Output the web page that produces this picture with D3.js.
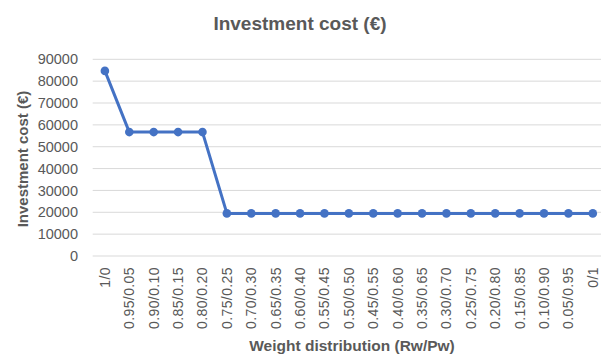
<!DOCTYPE html>
<html>
<head>
<meta charset="utf-8">
<script src="https://cdn.jsdelivr.net/npm/d3@7"></script>
<style>
  html, body { margin: 0; padding: 0; background: #ffffff; overflow: hidden; }
  svg { display: block; font-family: "Liberation Sans", Arial, sans-serif; }
</style>
</head>
<body>
<svg id="chart" width="601" height="356"></svg>
<script>
// Weight distribution (Rw/Pw) categories
const categories = [
  "1/0", "0.95/0.05", "0.90/0.10", "0.85/0.15", "0.80/0.20", "0.75/0.25",
  "0.70/0.30", "0.65/0.35", "0.60/0.40", "0.55/0.45", "0.50/0.50", "0.45/0.55",
  "0.40/0.60", "0.35/0.65", "0.30/0.70", "0.25/0.75", "0.20/0.80", "0.15/0.85",
  "0.10/0.90", "0.05/0.95", "0/1"
];
// Investment cost (€) per weight distribution
const costs = [
  84700, 56700, 56700, 56700, 56700, 19500,
  19500, 19500, 19500, 19500, 19500, 19500,
  19500, 19500, 19500, 19500, 19500, 19500,
  19500, 19500, 19500
];
const yTicks = [0, 10000, 20000, 30000, 40000, 50000, 60000, 70000, 80000, 90000];

const svg = d3.select("#chart");
const textColor = "#595959";

const x = d3.scaleBand().domain(categories).range([92.7, 605]);
const y = d3.scaleLinear().domain([0, 90000]).range([256, 59.3]);
const cx = d => x(d) + x.bandwidth() / 2;

// Title
svg.append("text")
  .attr("x", 300).attr("y", 30)
  .attr("text-anchor", "middle")
  .attr("font-size", 19).attr("font-weight", "bold")
  .attr("fill", textColor)
  .text("Investment cost (€)");

// Horizontal gridlines
svg.append("g")
  .selectAll("line")
  .data(yTicks)
  .join("line")
  .attr("x1", 92.7).attr("x2", 605)
  .attr("y1", d => y(d)).attr("y2", d => y(d))
  .attr("stroke", "#d9d9d9").attr("stroke-width", 1);

// Y axis
const yAxis = d3.axisLeft(y).tickValues(yTicks).tickSize(0).tickPadding(0).tickFormat(d3.format("d"));
const gy = svg.append("g").attr("transform", "translate(78,0)").call(yAxis);
gy.select(".domain").remove();
gy.selectAll("text")
  .attr("font-size", 14.5).attr("fill", textColor)
  .attr("font-family", "\"Liberation Sans\", Arial, sans-serif");

// X axis (rotated labels)
const xAxis = d3.axisBottom(x).tickSize(0).tickPadding(0);
const gx = svg.append("g").attr("transform", "translate(0,267)").call(xAxis);
gx.select(".domain").remove();
gx.selectAll("text")
  .attr("font-size", 14).attr("fill", textColor)
  .attr("font-family", "\"Liberation Sans\", Arial, sans-serif")
  .attr("letter-spacing", 0.4)
  .attr("transform", "rotate(-90)")
  .attr("text-anchor", "end")
  .attr("x", 0).attr("y", 0).attr("dy", "0.35em");

// Axis titles
svg.append("text")
  .attr("transform", "translate(28,159) rotate(-90)")
  .attr("text-anchor", "middle")
  .attr("font-size", 15).attr("font-weight", "bold")
  .attr("fill", textColor)
  .text("Investment cost (€)");

svg.append("text")
  .attr("x", 352).attr("y", 351)
  .attr("text-anchor", "middle")
  .attr("font-size", 15.5).attr("font-weight", "bold")
  .attr("fill", textColor)
  .text("Weight distribution (Rw/Pw)");

// Series line and markers
const line = d3.line().x((d, i) => cx(categories[i])).y(d => y(d));
svg.append("path")
  .datum(costs)
  .attr("d", line)
  .attr("fill", "none")
  .attr("stroke", "#4472C4")
  .attr("stroke-width", 3)
  .attr("stroke-linejoin", "round");

svg.append("g")
  .selectAll("circle")
  .data(costs)
  .join("circle")
  .attr("cx", (d, i) => cx(categories[i]))
  .attr("cy", d => y(d))
  .attr("r", 4.3)
  .attr("fill", "#4472C4");
</script>
</body>
</html>
